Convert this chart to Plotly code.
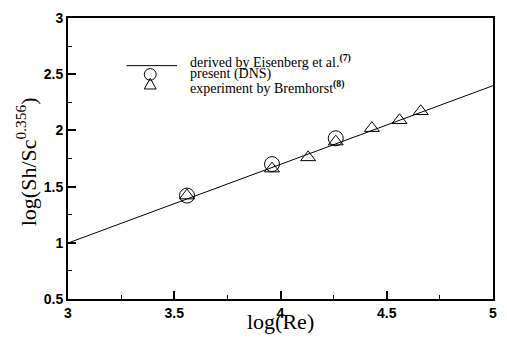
import plotly.graph_objects as go

# Data
line_x = [3.0, 5.0]
line_y = [0.998, 2.398]  # log(0.0791) + 0.70*log(Re)

dns_x = [3.56, 3.96, 4.26]
dns_y = [1.42, 1.70, 1.93]

exp_x = [3.56, 3.96, 4.13, 4.26, 4.43, 4.56, 4.66]
exp_y = [1.42, 1.66, 1.76, 1.90, 2.02, 2.09, 2.17]

x_ticks = [3, 3.5, 4, 4.5, 5]
y_ticks = [0.5, 1, 1.5, 2, 2.5, 3]
x_tick_labels = ["3", "3.5", "4", "4.5", "5"]
y_tick_labels = ["0.5", "1", "1.5", "2", "2.5", "3"]

legend_labels = ["derived by Eisenberg et al.<sup><b>(7)</b></sup>",
                 "present (DNS)",
                 "experiment by Bremhorst<sup><b>(8)</b></sup>"]

SERIF = "Times New Roman, Liberation Serif, serif"
SANS = "Arial, Liberation Sans, sans-serif"

fig = go.Figure()
fig.add_trace(go.Scatter(x=line_x, y=line_y, mode="lines",
                         line=dict(color="black", width=1), showlegend=False))
fig.add_trace(go.Scatter(x=dns_x, y=dns_y, mode="markers",
                         marker=dict(symbol="circle-open", size=15, color="black",
                                     line=dict(width=1, color="black")), showlegend=False))
fig.add_trace(go.Scatter(x=exp_x, y=exp_y, mode="markers",
                         marker=dict(symbol="triangle-up-open", size=13, color="black",
                                     line=dict(width=1, color="black")), showlegend=False))

W, H = 507, 339
L, R, T, B = 68, 10, 10, 40
pw, ph = W - L - R, H - T - B

def px(xp):
    return (xp - L) / pw

def py(yp):
    return 1 - (yp - T) / ph

shapes = []
shapes.append(dict(type="line", xref="paper", yref="paper",
                   x0=px(127), x1=px(178), y0=py(59), y1=py(59),
                   line=dict(color="black", width=1)))
shapes.append(dict(type="circle", xref="paper", yref="paper",
                   x0=px(145), x1=px(157), y0=py(74), y1=py(62),
                   line=dict(color="black", width=1)))
tx0, tx1, tcx = px(145), px(157), px(151)
ty0, ty1 = py(83), py(72)
shapes.append(dict(type="path", xref="paper", yref="paper",
                   path=f"M {tx0} {ty0} L {tx1} {ty0} L {tcx} {ty1} Z",
                   line=dict(color="black", width=1)))

annotations = []
for i, lab in enumerate(legend_labels):
    annotations.append(dict(text=lab, xref="paper", yref="paper",
                            x=px(189), y=py(54 + 13.5 * i), xanchor="left", yanchor="middle",
                            showarrow=False,
                            font=dict(family=SERIF, size=14, color="black")))
annotations.append(dict(text="log(Re)", xref="paper", yref="paper",
                        x=px(283), y=py(322), xanchor="center", yanchor="middle",
                        showarrow=False,
                        font=dict(family=SERIF, size=22, color="black")))
annotations.append(dict(text="log(Sh/Sc<sup>0.356</sup>)", xref="paper", yref="paper",
                        x=px(26), y=py(158), xanchor="center", yanchor="middle",
                        textangle=-90, showarrow=False,
                        font=dict(family=SERIF, size=22, color="black")))

axis_common = dict(showgrid=False, zeroline=False, showline=True, linecolor="black",
                   linewidth=2, mirror=True, ticks="inside", ticklen=8, tickwidth=1.5,
                   tickcolor="black",
                   tickfont=dict(family=SANS, size=14, color="black", weight="bold"),
                   minor=dict(ticks="inside", ticklen=4, tickwidth=1, tickcolor="black"))

fig.update_layout(
    width=W, height=H,
    margin=dict(l=L, r=R, t=T, b=B),
    paper_bgcolor="white", plot_bgcolor="white",
    xaxis=dict(range=[3, 5], tickvals=x_ticks,
               ticktext=[f"<b>{t}</b>" for t in x_tick_labels],
               minor_dtick=0.25, **axis_common),
    yaxis=dict(range=[0.5, 3], tickvals=y_ticks,
               ticktext=[f"<b>{t}</b>" for t in y_tick_labels],
               minor_dtick=0.25, **axis_common),
    shapes=shapes, annotations=annotations,
)

fig.write_html("out.html")
